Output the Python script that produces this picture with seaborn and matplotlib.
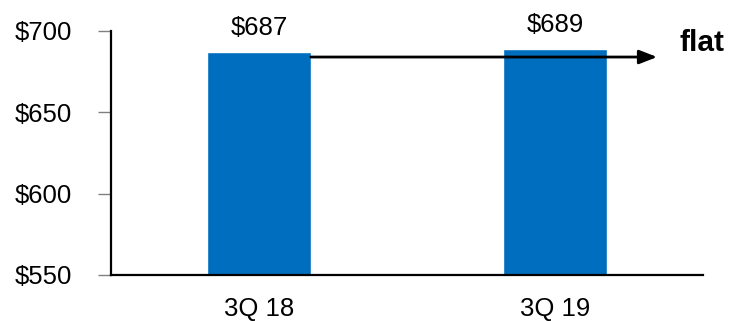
import matplotlib
matplotlib.use("Agg")
import matplotlib.pyplot as plt
import seaborn as sns
import pandas as pd

categories = ["3Q 18", "3Q 19"]
values = [687, 689]
value_labels = ["$687", "$689"]
y_ticks = [550, 600, 650, 700]
y_tick_labels = ["$550", "$600", "$650", "$700"]
arrow_level = 684
annotation_text = "flat"

sns.set_theme(style="white")
plt.rcParams["font.family"] = ["Liberation Sans", "DejaVu Sans"]

df = pd.DataFrame({"quarter": categories, "value": values})

fig = plt.figure(figsize=(7.3, 3.21), dpi=100)
ax = fig.add_axes([111 / 730, 1 - 275 / 321, (703 - 111) / 730, (275 - 31) / 321])

sns.barplot(data=df, x="quarter", y="value", color="#006EBE", width=0.35,
            saturation=1, ax=ax)

ax.set_ylim(550, 700)
ax.set_xlim(-0.5, 1.5)
ax.set_yticks(y_ticks)
ax.set_yticklabels(y_tick_labels)
ax.set_xlabel("")
ax.set_ylabel("")

for side in ["top", "right"]:
    ax.spines[side].set_visible(False)
for side in ["left", "bottom"]:
    ax.spines[side].set_color("black")
    ax.spines[side].set_linewidth(1.6)

ax.tick_params(axis="y", which="major", left=True, length=9.4, width=1.0,
               color="#808080", pad=19, labelsize=18.5, labelcolor="black")
ax.tick_params(axis="x", which="major", bottom=False, length=0, pad=16,
               labelsize=18.5, labelcolor="black")

for i, (v, lab) in enumerate(zip(values, value_labels)):
    ax.annotate(lab, xy=(i, v), xytext=(0, 12.5), textcoords="offset points",
                ha="center", va="baseline", fontsize=18.5, color="black",
                annotation_clip=False)

bar_half = 0.35 / 2
ax.annotate("", xy=(1.345, arrow_level), xytext=(0 + bar_half, arrow_level),
            arrowprops=dict(arrowstyle="-|>,head_length=0.9,head_width=0.35",
                            color="black", lw=2.0, shrinkA=0, shrinkB=0),
            annotation_clip=False)

ax.text(1.422, 687.7, annotation_text, fontsize=21.5, fontweight="bold",
        ha="left", va="baseline", color="black", clip_on=False)

fig.savefig("out.png", dpi=100)
